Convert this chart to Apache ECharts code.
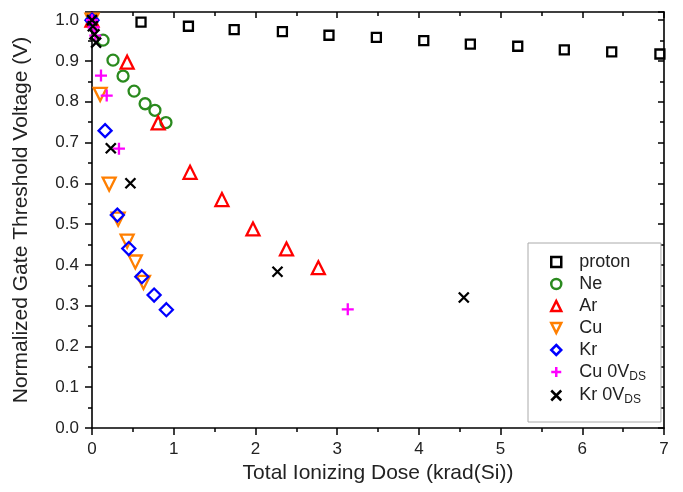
<!DOCTYPE html>
<html>
<head>
<meta charset="utf-8">
<script src="https://cdn.jsdelivr.net/npm/echarts@6/dist/echarts.min.js"></script>
<style>html,body{margin:0;padding:0;background:#fff}#c{width:683px;height:492px}</style>
</head>
<body>
<div id="c"></div>
<script>
const xTicks = [0, 1, 2, 3, 4, 5, 6, 7];
const yTicks = [0.0, 0.1, 0.2, 0.3, 0.4, 0.5, 0.6, 0.7, 0.8, 0.9, 1.0];

const protonX = [0, 0.60, 1.18, 1.74, 2.33, 2.90, 3.48, 4.06, 4.63, 5.21, 5.78, 6.36, 6.95];
const protonY = [1.0, 0.995, 0.985, 0.977, 0.972, 0.963, 0.958, 0.950, 0.941, 0.936, 0.927, 0.922, 0.917];

const neX = [0, 0.135, 0.257, 0.38, 0.515, 0.65, 0.77, 0.905];
const neY = [1.0, 0.951, 0.902, 0.863, 0.826, 0.795, 0.779, 0.749];

const arX = [0, 0.43, 0.81, 1.20, 1.59, 1.97, 2.38, 2.77];
const arY = [1.0, 0.897, 0.748, 0.627, 0.560, 0.488, 0.439, 0.393];

const cuX = [0, 0.10, 0.21, 0.32, 0.43, 0.53, 0.63];
const cuY = [1.0, 0.818, 0.598, 0.512, 0.458, 0.407, 0.357];

const krX = [0, 0.16, 0.31, 0.45, 0.61, 0.76, 0.91];
const krY = [1.0, 0.729, 0.522, 0.440, 0.371, 0.326, 0.290];

const cu0X = [0, 0.02, 0.04, 0.11, 0.18, 0.33, 3.13];
const cu0Y = [1.0, 0.982, 0.962, 0.864, 0.815, 0.685, 0.291];

const kr0X = [0, 0.01, 0.03, 0.05, 0.23, 0.47, 2.27, 4.55];
const kr0Y = [1.0, 0.985, 0.965, 0.945, 0.686, 0.600, 0.383, 0.320];

const names = ['proton', 'Ne', 'Ar', 'Cu', 'Kr', 'Cu 0VDS', 'Kr 0VDS'];

function pts(xs, ys) { return xs.map((x, i) => [x, ys[i]]); }

const plusPath = 'path://M5,0L5,10M0,5L10,5';
const crossPath = 'path://M0,0L10,10M10,0L0,10';
const downTri = 'path://M0,0L10,0L5,10Z';

const defs = [
  {name: names[0], data: pts(protonX, protonY), symbol: 'rect', size: 9, color: '#000000'},
  {name: names[1], data: pts(neX, neY), symbol: 'circle', size: 11, color: '#2a8a1e'},
  {name: names[2], data: pts(arX, arY), symbol: 'triangle', size: 13, color: '#ff0000'},
  {name: names[3], data: pts(cuX, cuY), symbol: downTri, size: 13, color: '#ff7f00'},
  {name: names[4], data: pts(krX, krY), symbol: 'diamond', size: 13, color: '#0000ff'},
  {name: names[5], data: pts(cu0X, cu0Y), symbol: plusPath, size: 12, color: '#ff00ff'},
  {name: names[6], data: pts(kr0X, kr0Y), symbol: crossPath, size: 10, color: '#000000'}
];

const series = defs.map(d => ({
  name: d.name,
  type: 'scatter',
  data: d.data,
  symbol: d.symbol,
  symbolSize: d.size,
  itemStyle: {color: 'rgba(0,0,0,0)', borderColor: d.color, borderWidth: 2.3, opacity: 1},
  emphasis: {disabled: true},
  z: 3
}));

const font = 'Liberation Sans, Arial, sans-serif';
const axisCommon = {
  axisLine: {show: true, onZero: false, lineStyle: {color: '#000', width: 1.6}},
  splitLine: {show: false}
};
const tickOut = {show: true, inside: false, length: 7, lineStyle: {color: '#000', width: 1.5}};
const tickIn = {show: true, inside: true, length: 6, lineStyle: {color: '#000', width: 1.5}};
const minor = {show: true, splitNumber: 2, length: 4, lineStyle: {color: '#000', width: 1.5}};

const chart = echarts.init(document.getElementById('c'), null, {renderer: 'canvas'});
chart.setOption({
  animation: false,
  backgroundColor: '#fff',
  grid: {left: 92, right: 19, top: 12, bottom: 64, containLabel: false},
  xAxis: [
    Object.assign({}, axisCommon, {
      type: 'value', position: 'bottom', min: xTicks[0], max: xTicks[xTicks.length - 1], interval: 1,
      name: 'Total Ionizing Dose (krad(Si))', nameLocation: 'middle', nameGap: 27,
      nameTextStyle: {fontFamily: font, fontSize: 21, color: '#222'},
      axisTick: tickOut,
      minorTick: minor,
      axisLabel: {fontFamily: font, fontSize: 17, color: '#222', margin: 13}
    }),
    Object.assign({}, axisCommon, {
      type: 'value', position: 'top', min: xTicks[0], max: xTicks[xTicks.length - 1], interval: 1,
      axisTick: tickIn,
      minorTick: Object.assign({}, minor),
      axisLabel: {show: false}
    })
  ],
  yAxis: [
    Object.assign({}, axisCommon, {
      type: 'value', position: 'left', min: yTicks[0], max: 1.02, interval: 0.1,
      name: 'Normalized Gate Threshold Voltage (V)', nameLocation: 'middle', nameGap: 60,
      nameTextStyle: {fontFamily: font, fontSize: 21, color: '#222'},
      axisTick: tickOut,
      minorTick: minor,
      axisLabel: {fontFamily: font, fontSize: 17, color: '#222', margin: 13, showMaxLabel: false,
        formatter: v => (yTicks.some(t => Math.abs(t - v) < 1e-6) ? v.toFixed(1) : '')}
    }),
    Object.assign({}, axisCommon, {
      type: 'value', position: 'right', min: yTicks[0], max: 1.02, interval: 0.1,
      axisTick: tickIn,
      minorTick: Object.assign({}, minor),
      axisLabel: {show: false}
    })
  ],
  legend: {
    orient: 'vertical',
    left: 528, top: 243,
    padding: [10, 15, 16, 22],
    itemGap: 4,
    itemWidth: 10, itemHeight: 10,
    borderColor: '#aaa', borderWidth: 1,
    backgroundColor: '#fff',
    data: names,
    itemStyle: {borderWidth: 2.5},
    textStyle: {fontFamily: font, fontSize: 18, color: '#222', padding: [0, 0, 0, 13],
      rich: {
        n: {fontFamily: font, fontSize: 18, color: '#222'},
        s: {fontFamily: font, fontSize: 12, color: '#222', padding: [9, 0, 0, 0]}
      }
    },
    formatter: n => n.endsWith('0VDS') ? '{n|' + n.slice(0, -2) + '}{s|DS}' : '{n|' + n + '}'
  },
  series: series
});
</script>
</body>
</html>
